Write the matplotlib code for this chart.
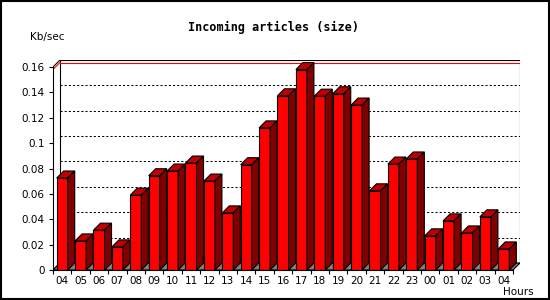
import matplotlib
matplotlib.use('Agg')
from matplotlib import pyplot as plt
from matplotlib.patches import Polygon, Rectangle

# hourly values, Kb/sec
hours = ['04', '05', '06', '07', '08', '09', '10', '11', '12', '13', '14', '15',
         '16', '17', '18', '19', '20', '21', '22', '23', '00', '01', '02', '03', '04']
values = [0.0725, 0.0229, 0.0314, 0.0182, 0.059, 0.0743, 0.078, 0.0843, 0.0701,
          0.045, 0.083, 0.112, 0.1373, 0.158, 0.137, 0.1389, 0.130, 0.0624,
          0.0835, 0.0875, 0.0269, 0.0387, 0.0292, 0.0419, 0.0166]
yticks = [0, 0.02, 0.04, 0.06, 0.08, 0.1, 0.12, 0.14, 0.16]
ytick_labels = ['0', '0.02', '0.04', '0.06', '0.08', '0.1', '0.12', '0.14', '0.16']

W, H = 550, 300
n = len(values)
slot_px = 18.4
unit_px = (270 - 67.5) / 0.16
dx = 7 / slot_px          # depth in x data units
dy = 7 / unit_px          # depth in y data units
ymax = 0.16

fig = plt.figure(figsize=(W / 100, H / 100), dpi=100)
fig.patch.set_facecolor('white')
ax = fig.add_axes([53 / W, 30 / H, 467 / W, 210 / H])
ax.set_xlim(0, n + dx)
ax.set_ylim(0, ymax + dy)
ax.patch.set_visible(False)

# floor
ax.add_patch(Polygon([(0, 0), (n, 0), (n + dx, dy), (dx, dy)], closed=True,
                     facecolor='#808080', edgecolor='black', lw=0.8, zorder=1))
# back wall
ax.add_patch(Rectangle((dx, dy), n, ymax, facecolor='white', edgecolor='black',
                       lw=0.8, zorder=0.5))
# grid lines on the back wall
for v in yticks[1:-1]:
    ax.plot([dx, n + dx], [v + dy, v + dy], color='black', lw=0.75,
            dashes=(2, 2), zorder=0.8)
red_off = 2.5 / unit_px
ax.plot([dx, n + dx], [ymax + dy - red_off] * 2, color='#ff0000', lw=0.8, zorder=0.8)
ax.plot([0, dx], [ymax - red_off, ymax + dy - red_off], color='#ff0000', lw=0.8, zorder=0.8)
ax.plot([0, dx], [ymax, ymax + dy], color='black', lw=0.8, zorder=0.9)
ax.plot([0, dx], [0, dy], color='black', lw=0.8, zorder=0.9)

# 3D bars
xs = [i + 0.2 for i in range(n)]
ax.bar(xs, values, width=0.6, align='edge', color='#ff0000', edgecolor='black',
       lw=0.8, zorder=3)
for x0, v in zip(xs, values):
    x1 = x0 + 0.6
    ax.add_patch(Polygon([(x0, v), (x1, v), (x1 + dx, v + dy), (x0 + dx, v + dy)],
                         closed=True, facecolor='#c00000', edgecolor='black', lw=0.8, zorder=3))
    ax.add_patch(Polygon([(x1, 0), (x1 + dx, dy), (x1 + dx, v + dy), (x1, v)],
                         closed=True, facecolor='#800000', edgecolor='black', lw=0.8, zorder=3))

# axes
for s in ['top', 'right']:
    ax.spines[s].set_visible(False)
ax.spines['left'].set_bounds(0, ymax)
ax.spines['bottom'].set_bounds(0, n)
for s in ['left', 'bottom']:
    ax.spines[s].set_linewidth(0.8)
    ax.spines[s].set_zorder(4)

ax.set_yticks(yticks)
ax.set_yticklabels(ytick_labels, fontsize=7.5)
ax.set_xticks(range(n + 1))
ax.set_xticklabels([])
ax.set_xticks([i + 0.5 for i in range(n)], minor=True)
ax.set_xticklabels(hours, minor=True, fontsize=7.5)
ax.tick_params(axis='y', length=3, width=0.8, pad=3)
ax.tick_params(axis='x', which='major', length=3, width=0.8)
ax.tick_params(axis='x', which='minor', length=0, pad=4)

fig.text(273.5 / W, 1 - 27 / H, 'Incoming articles (size)', ha='center', va='center',
         family='DejaVu Sans Mono', fontweight='bold', fontsize=8.5)
fig.text(30 / W, 1 - 37 / H, 'Kb/sec', ha='left', va='center', fontsize=7.5)
fig.text(534 / W, 1 - 292 / H, 'Hours', ha='right', va='center', fontsize=7.5)

# outer frame
fig.add_artist(Rectangle((0.5 / W, 1.5 / H), 548 / W, 297.5 / H, transform=fig.transFigure,
                         fill=False, edgecolor='black', lw=1.5))

plt.savefig('out.png', dpi=100)
